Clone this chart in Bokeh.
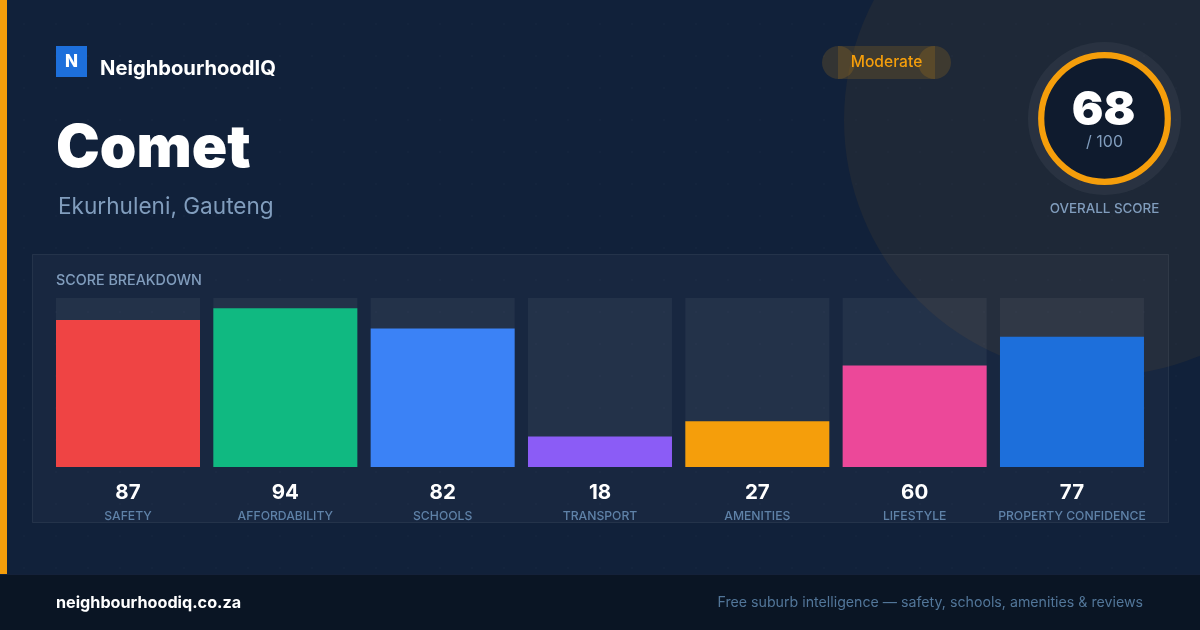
import numpy as np
from bokeh.core.properties import value
from bokeh.embed import file_html
from bokeh.models import Range1d
from bokeh.plotting import figure
from bokeh.resources import INLINE

categories = ["SAFETY", "AFFORDABILITY", "SCHOOLS", "TRANSPORT", "AMENITIES", "LIFESTYLE", "PROPERTY CONFIDENCE"]
scores = [87, 94, 82, 18, 27, 60, 77]
bar_colors = ["#ef4444", "#10b981", "#3b82f6", "#8b5cf6", "#f59e0b", "#ec4899", "#1d6fdb"]
overall = 68
score_labels = [str(s) for s in scores]

W, H = 1200, 630
ORANGE = "#f59e0b"
MUTED = "#819dbd"

# half a pixel of slack each side: the svg canvas is translated by 0.5px
p = figure(width=W + 1, height=H + 1, x_range=Range1d(-0.5, W + 0.5), y_range=Range1d(H + 0.5, -0.5),
           x_axis_type=None, y_axis_type=None, toolbar_location=None,
           output_backend="svg", min_border=0, outline_line_color=None,
           background_fill_color="#11213a", border_fill_color="#11213a")
p.grid.visible = False
p.styles = {"position": "fixed", "left": "-1px", "top": "-1px"}

# bars get their own scales: one slot = 157.33px, first slot centred at 128
# 100 points = 169px, base at y=467
STEP = 157.33
p.extra_x_ranges["slot"] = Range1d((-0.5 - 128) / STEP, (W + 0.5 - 128) / STEP)
p.extra_y_ranges["score"] = Range1d((467 - H - 0.5) / 1.69, (467 + 0.5) / 1.69)
slots = list(range(len(categories)))


def label(x, y, s, size, color, font="Inter", weight="normal", align="left", **kw):
    xs = x if isinstance(x, list) else [x]
    ys = y if isinstance(y, list) else [y] * len(xs)
    ss = s if isinstance(s, list) else [s]
    return p.text(x=xs, y=ys, text=ss, text_font=value(font), text_font_size=size,
                  text_color=color, text_font_style=weight, text_align=align,
                  text_baseline="middle", **kw)


# dotted background
gx, gy = np.meshgrid(np.arange(24, W, 32), np.arange(24, 574, 32))
p.scatter(gx.ravel(), gy.ravel(), size=2, color="#ffffff", alpha=0.025, line_color=None)

# big corner circle
p.circle(x=[1100], y=[120], radius=256, fill_color=ORANGE, fill_alpha=0.06, line_color=None)

# left stripe and footer
p.quad(left=[-1], right=[7], top=[-1], bottom=[574], color=ORANGE, line_color=None)
p.quad(left=[-1], right=[W + 1], top=[574], bottom=[H + 1], color="#0a1524", line_color=None)
p.quad(left=[-1], right=[W + 1], top=[574], bottom=[575], color="#14213a", line_color=None)

# logo
p.quad(left=[56], right=[87], top=[46], bottom=[77], color="#1d6fdb", line_color=None)
label(71.5, 60.5, "N", "17px", "#ffffff", "Inter ExtraBold", align="center")
label(100, 67, "NeighbourhoodIQ", "20.2px", "#ffffff", weight="bold")
label(56, 145.5, "Comet", "58.6px", "#ffffff", "Inter Black")
label(58, 205, "Ekurhuleni, Gauteng", "22.6px", MUTED)

# rating pill
p.quad(left=[838], right=[935], top=[46], bottom=[79], color=ORANGE, alpha=0.15, line_color=None)
p.circle(x=[838.5, 934.5], y=[62.5, 62.5], radius=16.5, fill_color=ORANGE, fill_alpha=0.15, line_color=None)
label(886.5, 61, "Moderate", "15.6px", ORANGE, "Inter Medium", align="center")

# overall score ring
p.circle(x=[1104.5], y=[118.5], radius=76.5, fill_color="#ffffff", fill_alpha=0.05, line_color=None)
p.circle(x=[1104.5], y=[118.5], radius=63.3, fill_color="#0f1b2e", line_color=ORANGE, line_width=6.2)
label(1103.5, 108, str(overall), "47px", "#ffffff", "Inter Black", align="center")
label(1104.5, 141, "/ 100", "16px", MUTED, align="center")
label(1104.5, 207.5, "OVERALL SCORE", "13.4px", MUTED, "Inter Medium", align="center")

# breakdown panel
p.quad(left=[32.5], right=[1168.5], top=[254.5], bottom=[522.5], fill_color="#ffffff", fill_alpha=0.03,
       line_color="#ffffff", line_alpha=0.07)
label(56, 279.5, "SCORE BREAKDOWN", "14.3px", MUTED, "Inter Medium")

bar_w = 144 / STEP
p.vbar(x=slots, width=bar_w, bottom=0, top=[100] * len(slots), fill_color="#ffffff",
       fill_alpha=0.05, line_color=None, x_range_name="slot", y_range_name="score")
p.vbar(x=slots, width=bar_w, bottom=0, top=scores, fill_color=bar_colors,
       line_color=None, x_range_name="slot", y_range_name="score")
label(slots, [491] * 7, score_labels, "20.5px", "#ffffff", weight="bold", align="center", x_range_name="slot")
label(slots, [515.5] * 7, categories, "12.2px", "#5f82a8", "Inter Medium", align="center", x_range_name="slot")

# footer text
label(56, 601.5, "neighbourhoodiq.co.za", "16.2px", "#ffffff", weight="bold")
label(1143, 601, "Free suburb intelligence \u2014 safety, schools, amenities & reviews", "14.2px", "#527699", align="right")

open("out.html", "w").write(file_html(p, INLINE))
